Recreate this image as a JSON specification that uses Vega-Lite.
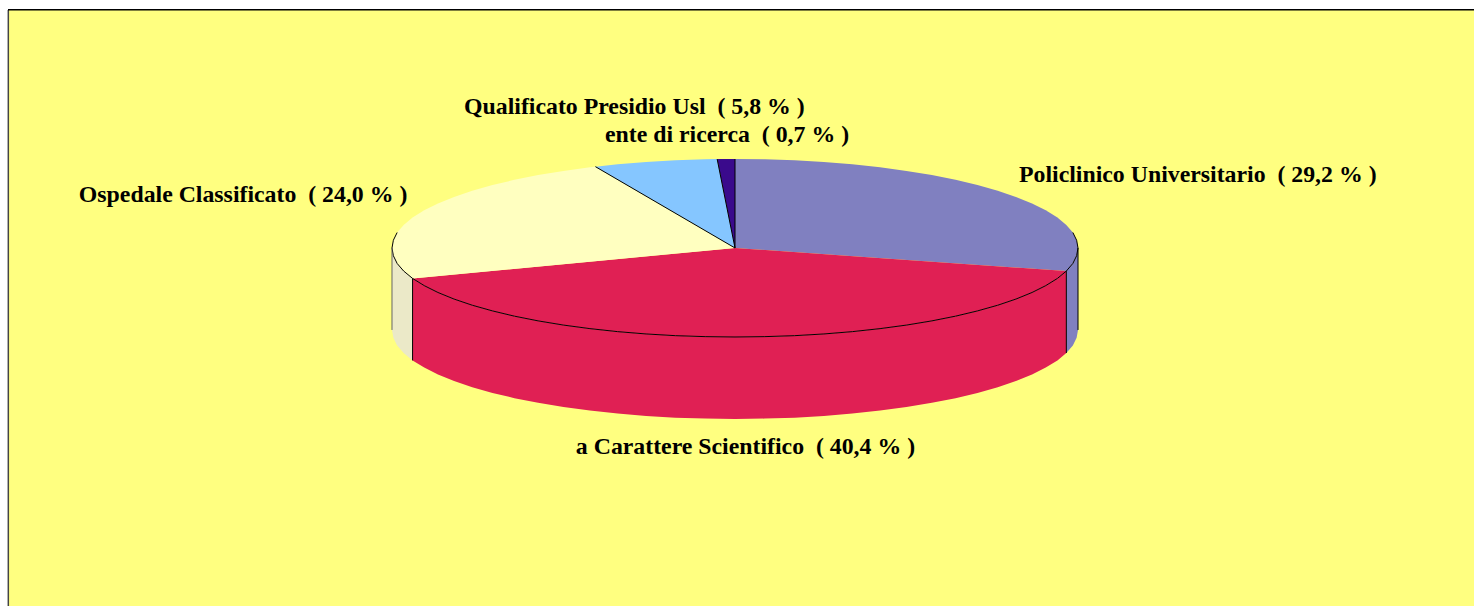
{"$schema":"https://vega.github.io/schema/vega-lite/v6.json","width":1465,"height":596,"autosize":"none","padding":{"left":9,"top":10,"right":0,"bottom":0},"background":"white","config":{"view":{"fill":"#FFFF80","stroke":null}},
"datasets":{
"faces":[
{"s":"Policlinico Universitario","o":0,"x":0,"y":0},{"s":"Policlinico Universitario","o":1,"x":0,"y":1},{"s":"Policlinico Universitario","o":2,"x":0.087,"y":0.996},{"s":"Policlinico Universitario","o":3,"x":0.174,"y":0.985},{"s":"Policlinico Universitario","o":4,"x":0.259,"y":0.966},{"s":"Policlinico Universitario","o":5,"x":0.342,"y":0.94},{"s":"Policlinico Universitario","o":6,"x":0.423,"y":0.906},{"s":"Policlinico Universitario","o":7,"x":0.5,"y":0.866},{"s":"Policlinico Universitario","o":8,"x":0.574,"y":0.819},{"s":"Policlinico Universitario","o":9,"x":0.643,"y":0.766},{"s":"Policlinico Universitario","o":10,"x":0.707,"y":0.707},{"s":"Policlinico Universitario","o":11,"x":0.766,"y":0.643},{"s":"Policlinico Universitario","o":12,"x":0.819,"y":0.574},{"s":"Policlinico Universitario","o":13,"x":0.866,"y":0.5},{"s":"Policlinico Universitario","o":14,"x":0.906,"y":0.423},{"s":"Policlinico Universitario","o":15,"x":0.94,"y":0.342},{"s":"Policlinico Universitario","o":16,"x":0.966,"y":0.259},{"s":"Policlinico Universitario","o":17,"x":0.985,"y":0.174},{"s":"Policlinico Universitario","o":18,"x":0.996,"y":0.087},{"s":"Policlinico Universitario","o":19,"x":1,"y":0},{"s":"Policlinico Universitario","o":20,"x":0.996,"y":-0.087},{"s":"Policlinico Universitario","o":21,"x":0.985,"y":-0.174},{"s":"Policlinico Universitario","o":22,"x":0.966,"y":-0.259},
{"s":"a Carattere Scientifico","o":0,"x":0,"y":0},{"s":"a Carattere Scientifico","o":1,"x":0.966,"y":-0.259},{"s":"a Carattere Scientifico","o":2,"x":0.94,"y":-0.342},{"s":"a Carattere Scientifico","o":3,"x":0.906,"y":-0.423},{"s":"a Carattere Scientifico","o":4,"x":0.866,"y":-0.5},{"s":"a Carattere Scientifico","o":5,"x":0.819,"y":-0.574},{"s":"a Carattere Scientifico","o":6,"x":0.766,"y":-0.643},{"s":"a Carattere Scientifico","o":7,"x":0.707,"y":-0.707},{"s":"a Carattere Scientifico","o":8,"x":0.643,"y":-0.766},{"s":"a Carattere Scientifico","o":9,"x":0.574,"y":-0.819},{"s":"a Carattere Scientifico","o":10,"x":0.5,"y":-0.866},{"s":"a Carattere Scientifico","o":11,"x":0.423,"y":-0.906},{"s":"a Carattere Scientifico","o":12,"x":0.342,"y":-0.94},{"s":"a Carattere Scientifico","o":13,"x":0.259,"y":-0.966},{"s":"a Carattere Scientifico","o":14,"x":0.174,"y":-0.985},{"s":"a Carattere Scientifico","o":15,"x":0.087,"y":-0.996},{"s":"a Carattere Scientifico","o":16,"x":0,"y":-1},{"s":"a Carattere Scientifico","o":17,"x":-0.087,"y":-0.996},{"s":"a Carattere Scientifico","o":18,"x":-0.174,"y":-0.985},{"s":"a Carattere Scientifico","o":19,"x":-0.259,"y":-0.966},{"s":"a Carattere Scientifico","o":20,"x":-0.342,"y":-0.94},{"s":"a Carattere Scientifico","o":21,"x":-0.423,"y":-0.906},{"s":"a Carattere Scientifico","o":22,"x":-0.5,"y":-0.866},{"s":"a Carattere Scientifico","o":23,"x":-0.574,"y":-0.819},{"s":"a Carattere Scientifico","o":24,"x":-0.643,"y":-0.766},{"s":"a Carattere Scientifico","o":25,"x":-0.707,"y":-0.707},{"s":"a Carattere Scientifico","o":26,"x":-0.766,"y":-0.643},{"s":"a Carattere Scientifico","o":27,"x":-0.819,"y":-0.574},{"s":"a Carattere Scientifico","o":28,"x":-0.866,"y":-0.5},{"s":"a Carattere Scientifico","o":29,"x":-0.906,"y":-0.423},{"s":"a Carattere Scientifico","o":30,"x":-0.94,"y":-0.342},
{"s":"Ospedale Classificato","o":0,"x":0,"y":0},{"s":"Ospedale Classificato","o":1,"x":-0.94,"y":-0.342},{"s":"Ospedale Classificato","o":2,"x":-0.966,"y":-0.259},{"s":"Ospedale Classificato","o":3,"x":-0.985,"y":-0.174},{"s":"Ospedale Classificato","o":4,"x":-0.996,"y":-0.087},{"s":"Ospedale Classificato","o":5,"x":-1,"y":0},{"s":"Ospedale Classificato","o":6,"x":-0.996,"y":0.087},{"s":"Ospedale Classificato","o":7,"x":-0.985,"y":0.174},{"s":"Ospedale Classificato","o":8,"x":-0.966,"y":0.259},{"s":"Ospedale Classificato","o":9,"x":-0.94,"y":0.342},{"s":"Ospedale Classificato","o":10,"x":-0.906,"y":0.423},{"s":"Ospedale Classificato","o":11,"x":-0.866,"y":0.5},{"s":"Ospedale Classificato","o":12,"x":-0.819,"y":0.574},{"s":"Ospedale Classificato","o":13,"x":-0.766,"y":0.643},{"s":"Ospedale Classificato","o":14,"x":-0.707,"y":0.707},{"s":"Ospedale Classificato","o":15,"x":-0.643,"y":0.766},{"s":"Ospedale Classificato","o":16,"x":-0.574,"y":0.819},{"s":"Ospedale Classificato","o":17,"x":-0.5,"y":0.866},{"s":"Ospedale Classificato","o":18,"x":-0.423,"y":0.906},{"s":"Ospedale Classificato","o":19,"x":-0.407,"y":0.914},
{"s":"Qualificato Presidio Usl","o":0,"x":0,"y":0},{"s":"Qualificato Presidio Usl","o":1,"x":-0.407,"y":0.914},{"s":"Qualificato Presidio Usl","o":2,"x":-0.342,"y":0.94},{"s":"Qualificato Presidio Usl","o":3,"x":-0.259,"y":0.966},{"s":"Qualificato Presidio Usl","o":4,"x":-0.174,"y":0.985},{"s":"Qualificato Presidio Usl","o":5,"x":-0.087,"y":0.996},{"s":"Qualificato Presidio Usl","o":6,"x":-0.052,"y":0.999},
{"s":"ente di ricerca","o":0,"x":0,"y":0},{"s":"ente di ricerca","o":1,"x":-0.052,"y":0.999},{"s":"ente di ricerca","o":2,"x":0,"y":1}
],
"walls":[
{"s":"Ospedale Classificato","x":-1,"y":0,"y2":-0.921},{"s":"Ospedale Classificato","x":-0.996,"y":-0.087,"y2":-1.008},{"s":"Ospedale Classificato","x":-0.985,"y":-0.174,"y2":-1.095},{"s":"Ospedale Classificato","x":-0.966,"y":-0.259,"y2":-1.18},{"s":"Ospedale Classificato","x":-0.94,"y":-0.342,"y2":-1.263},
{"s":"a Carattere Scientifico","x":-0.94,"y":-0.342,"y2":-1.263},{"s":"a Carattere Scientifico","x":-0.906,"y":-0.423,"y2":-1.344},{"s":"a Carattere Scientifico","x":-0.866,"y":-0.5,"y2":-1.421},{"s":"a Carattere Scientifico","x":-0.819,"y":-0.574,"y2":-1.495},{"s":"a Carattere Scientifico","x":-0.766,"y":-0.643,"y2":-1.564},{"s":"a Carattere Scientifico","x":-0.707,"y":-0.707,"y2":-1.628},{"s":"a Carattere Scientifico","x":-0.643,"y":-0.766,"y2":-1.687},{"s":"a Carattere Scientifico","x":-0.574,"y":-0.819,"y2":-1.74},{"s":"a Carattere Scientifico","x":-0.5,"y":-0.866,"y2":-1.787},{"s":"a Carattere Scientifico","x":-0.423,"y":-0.906,"y2":-1.827},{"s":"a Carattere Scientifico","x":-0.342,"y":-0.94,"y2":-1.861},{"s":"a Carattere Scientifico","x":-0.259,"y":-0.966,"y2":-1.887},{"s":"a Carattere Scientifico","x":-0.174,"y":-0.985,"y2":-1.906},{"s":"a Carattere Scientifico","x":-0.087,"y":-0.996,"y2":-1.917},{"s":"a Carattere Scientifico","x":0,"y":-1,"y2":-1.921},{"s":"a Carattere Scientifico","x":0.087,"y":-0.996,"y2":-1.917},{"s":"a Carattere Scientifico","x":0.174,"y":-0.985,"y2":-1.906},{"s":"a Carattere Scientifico","x":0.259,"y":-0.966,"y2":-1.887},{"s":"a Carattere Scientifico","x":0.342,"y":-0.94,"y2":-1.861},{"s":"a Carattere Scientifico","x":0.423,"y":-0.906,"y2":-1.827},{"s":"a Carattere Scientifico","x":0.5,"y":-0.866,"y2":-1.787},{"s":"a Carattere Scientifico","x":0.574,"y":-0.819,"y2":-1.74},{"s":"a Carattere Scientifico","x":0.643,"y":-0.766,"y2":-1.687},{"s":"a Carattere Scientifico","x":0.707,"y":-0.707,"y2":-1.628},{"s":"a Carattere Scientifico","x":0.766,"y":-0.643,"y2":-1.564},{"s":"a Carattere Scientifico","x":0.819,"y":-0.574,"y2":-1.495},{"s":"a Carattere Scientifico","x":0.866,"y":-0.5,"y2":-1.421},{"s":"a Carattere Scientifico","x":0.906,"y":-0.423,"y2":-1.344},{"s":"a Carattere Scientifico","x":0.94,"y":-0.342,"y2":-1.263},{"s":"a Carattere Scientifico","x":0.966,"y":-0.259,"y2":-1.18},
{"s":"Policlinico Universitario","x":0.966,"y":-0.259,"y2":-1.18},{"s":"Policlinico Universitario","x":0.985,"y":-0.174,"y2":-1.095},{"s":"Policlinico Universitario","x":0.996,"y":-0.087,"y2":-1.008},{"s":"Policlinico Universitario","x":1,"y":0,"y2":-0.921}
],
"rim":[
{"k":"front","o":0,"x":-0.985,"y":0.174},{"k":"front","o":1,"x":-0.996,"y":0.087},{"k":"front","o":2,"x":-1,"y":0},{"k":"front","o":3,"x":-0.996,"y":-0.087},{"k":"front","o":4,"x":-0.985,"y":-0.174},{"k":"front","o":5,"x":-0.966,"y":-0.259},{"k":"front","o":6,"x":-0.94,"y":-0.342},{"k":"front","o":7,"x":-0.906,"y":-0.423},{"k":"front","o":8,"x":-0.866,"y":-0.5},{"k":"front","o":9,"x":-0.819,"y":-0.574},{"k":"front","o":10,"x":-0.766,"y":-0.643},{"k":"front","o":11,"x":-0.707,"y":-0.707},{"k":"front","o":12,"x":-0.643,"y":-0.766},{"k":"front","o":13,"x":-0.574,"y":-0.819},{"k":"front","o":14,"x":-0.5,"y":-0.866},{"k":"front","o":15,"x":-0.423,"y":-0.906},{"k":"front","o":16,"x":-0.342,"y":-0.94},{"k":"front","o":17,"x":-0.259,"y":-0.966},{"k":"front","o":18,"x":-0.174,"y":-0.985},{"k":"front","o":19,"x":-0.087,"y":-0.996},{"k":"front","o":20,"x":0,"y":-1},{"k":"front","o":21,"x":0.087,"y":-0.996},{"k":"front","o":22,"x":0.174,"y":-0.985},{"k":"front","o":23,"x":0.259,"y":-0.966},{"k":"front","o":24,"x":0.342,"y":-0.94},{"k":"front","o":25,"x":0.423,"y":-0.906},{"k":"front","o":26,"x":0.5,"y":-0.866},{"k":"front","o":27,"x":0.574,"y":-0.819},{"k":"front","o":28,"x":0.643,"y":-0.766},{"k":"front","o":29,"x":0.707,"y":-0.707},{"k":"front","o":30,"x":0.766,"y":-0.643},{"k":"front","o":31,"x":0.819,"y":-0.574},{"k":"front","o":32,"x":0.866,"y":-0.5},{"k":"front","o":33,"x":0.906,"y":-0.423},{"k":"front","o":34,"x":0.94,"y":-0.342},{"k":"front","o":35,"x":0.966,"y":-0.259},{"k":"front","o":36,"x":0.985,"y":-0.174},{"k":"front","o":37,"x":0.996,"y":-0.087},{"k":"front","o":38,"x":1,"y":0},{"k":"front","o":39,"x":0.996,"y":0.087},{"k":"front","o":40,"x":0.985,"y":0.174},
{"k":"spoke1","o":0,"x":0,"y":0},{"k":"spoke1","o":1,"x":-0.407,"y":0.914},
{"k":"spoke2","o":0,"x":0,"y":0},{"k":"spoke2","o":1,"x":-0.052,"y":0.999},
{"k":"spoke3","o":0,"x":0,"y":0},{"k":"spoke3","o":1,"x":0,"y":1}
],
"edgesOuter":[{"x":-1,"y":0,"y2":-0.921}],
"edgesInner":[{"x":-0.94,"y":-0.342,"y2":-1.263},{"x":0.966,"y":-0.259,"y2":-1.18},{"x":1,"y":0,"y2":-0.921}],
"labels":[
{"label":"Policlinico Universitario\u00a0 ( 29,2 % )","share":29.2,"x":0.828,"y":0.742},
{"label":"Qualificato Presidio Usl\u00a0 ( 5,8 % )","share":5.8,"x":-0.79,"y":1.5},
{"label":"ente di ricerca\u00a0 ( 0,7 % )","share":0.7,"x":-0.379,"y":1.19},
{"label":"Ospedale Classificato\u00a0 ( 24,0 % )","share":24.0,"x":-1.913,"y":0.517},
{"label":"a Carattere Scientifico\u00a0 ( 40,4 % )","share":40.4,"x":-0.464,"y":-2.316}
]},
"encoding":{
"x":{"field":"x","type":"quantitative","axis":null,"scale":{"domain":[-2.1166,2.1545],"nice":false,"zero":false}},
"y":{"field":"y","type":"quantitative","axis":null,"scale":{"domain":[-4.0225,2.674],"nice":false,"zero":false}}
},
"layer":[
{"data":{"name":"walls"},"mark":{"type":"area","interpolate":"linear"},"encoding":{"y2":{"field":"y2"},"color":{"field":"s","type":"nominal","legend":null,"scale":{"domain":["Policlinico Universitario","a Carattere Scientifico","Ospedale Classificato"],"range":["#8080C0","#E02054","#EBE9C8"]}}}},
{"data":{"name":"faces"},"mark":{"type":"line","strokeWidth":0,"interpolate":"linear"},"encoding":{"order":{"field":"o","type":"quantitative"},"fill":{"field":"s","type":"nominal","legend":null,"scale":{"domain":["Policlinico Universitario","a Carattere Scientifico","Ospedale Classificato","Qualificato Presidio Usl","ente di ricerca"],"range":["#8080C0","#E02054","#FFFFC0","#85C6FF","#3A0A8C"]}},"detail":{"field":"s"}}},
{"data":{"name":"rim"},"mark":{"type":"line","stroke":"black","strokeWidth":1,"interpolate":"linear"},"encoding":{"order":{"field":"o","type":"quantitative"},"detail":{"field":"k"}}},
{"data":{"name":"edgesOuter"},"mark":{"type":"rule","stroke":"#666666","strokeWidth":1},"encoding":{"y2":{"field":"y2"}}},
{"data":{"name":"edgesInner"},"mark":{"type":"rule","stroke":"black","strokeWidth":1},"encoding":{"y2":{"field":"y2"}}},
{"data":{"name":"labels"},"mark":{"type":"text","align":"left","baseline":"alphabetic","font":"Liberation Serif","fontWeight":"bold","fontSize":23.8,"color":"black"},"encoding":{"text":{"field":"label"}}},
{"data":{"values":[{"x":-2.1186}]},"mark":{"type":"rule","stroke":"#444444","strokeWidth":1.5},"encoding":{"y":{"value":0},"y2":{"value":596}}},
{"data":{"values":[{"y":2.678}]},"mark":{"type":"rule","stroke":"black","strokeWidth":1.5},"encoding":{"x":{"value":-1},"x2":{"value":1465}}}
]}
